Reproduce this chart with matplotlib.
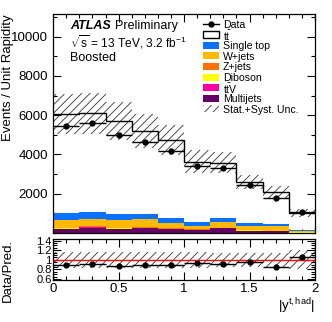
import matplotlib
matplotlib.use("Agg")
import matplotlib.pyplot as plt
from matplotlib.patches import Rectangle
import numpy as np

plt.rcParams['font.family'] = ['Liberation Sans', 'DejaVu Sans']
plt.rcParams['mathtext.fontset'] = 'custom'
plt.rcParams['mathtext.rm'] = 'Liberation Sans'
plt.rcParams['mathtext.it'] = 'Liberation Sans:italic'
plt.rcParams['hatch.linewidth'] = 0.6
plt.rcParams['hatch.color'] = '#333333'

# bin edges in |y^{t,had}|
edges = np.arange(0, 2.01, 0.2)

# data and total prediction (events / unit rapidity)
data = [5445, 5600, 5000, 4630, 4190, 3410, 3290, 2440, 1765, 1090]
total_pred = [6050, 6100, 5700, 5200, 4730, 3630, 3580, 2580, 2070, 1030]
rel_unc = [0.17, 0.17, 0.17, 0.17, 0.16, 0.16, 0.15, 0.14, 0.15, 0.2]

# backgrounds, bottom to top
multijets = [190, 280, 200, 230, 180, 150, 230, 115, 85, 20]
ttv = [25, 25, 20, 25, 15, 12, 15, 8, 8, 5]
diboson = [15, 20, 10, 20, 10, 10, 10, 8, 8, 5]
zjets = [30, 40, 30, 40, 25, 20, 25, 15, 15, 10]
wjets = [400, 360, 400, 380, 300, 165, 300, 225, 225, 60]
single_top = [380, 340, 300, 250, 240, 185, 170, 120, 118, 50]

bkgs = [
    (multijets, '#660066', 'Multijets'),
    (ttv, '#ff00a0', r'$\mathrm{t\bar{t}V}$'),
    (diboson, '#ffff00', 'Diboson'),
    (zjets, '#ff7200', 'Z+jets'),
    (wjets, '#ffb900', 'W+jets'),
    (single_top, '#0a72ff', 'Single top'),
]

def stepy(v):
    v = np.asarray(v, dtype=float)
    return np.append(v, v[-1])

fig = plt.figure(figsize=(3.32, 3.22), dpi=100)
ax = fig.add_axes([0.16, 0.2764, 0.789, 0.680])
rax = fig.add_axes([0.16, 0.1304, 0.789, 0.1283])

centers = (edges[:-1] + edges[1:]) / 2
tot = np.array(total_pred, dtype=float)
dat = np.array(data, dtype=float)
unc = np.array(rel_unc)

# ttbar white on top of the backgrounds
ax.fill_between(edges, 0, stepy(tot), step='post', facecolor='white', edgecolor='none', zorder=1)
ax.stairs(tot, edges, color='black', linewidth=1.0, zorder=4, baseline=None)

bottom = np.zeros(len(centers))
for vals, col, lab in bkgs:
    v = np.array(vals, dtype=float)
    ax.fill_between(edges, stepy(bottom), stepy(bottom + v), step='post',
                    facecolor=col, edgecolor='none', zorder=2)
    bottom = bottom + v

# uncertainty band
ax.fill_between(edges, stepy(tot * (1 - unc)), stepy(tot * (1 + unc)), step='post',
                facecolor='none', edgecolor='#333333', hatch='////', linewidth=0, zorder=3)

ax.errorbar(centers, dat, xerr=0.1, yerr=np.sqrt(dat) * 1.5, fmt='o', color='black',
            markersize=3.5, elinewidth=1.0, capsize=0, zorder=5)

ax.set_xlim(0, 2)
ax.set_ylim(0, 11150)
ax.set_yticks([2000, 4000, 6000, 8000, 10000])
ax.set_yticks(np.arange(0, 11001, 1000), minor=True)
ax.set_xticks(np.arange(0, 2.01, 0.5))
ax.set_xticks(np.arange(0, 2.01, 0.1), minor=True)
ax.set_xticklabels([])
ax.set_ylabel('Events / Unit Rapidity', fontsize=9.5, loc='top')
ax.yaxis.set_label_coords(-0.148, 1.0)

for a in (ax, rax):
    a.tick_params(which='both', direction='in', top=True, right=True, labelsize=9.5)
    a.tick_params(which='major', length=6, width=0.8)
    a.tick_params(which='minor', length=3, width=0.8)
    for s in a.spines.values():
        s.set_linewidth(0.9)
        s.set_zorder(10)

ax.text(0.065, 0.947, 'ATLAS', transform=ax.transAxes, fontsize=9, fontweight='bold',
        style='italic', va='center')
ax.text(0.238, 0.947, 'Preliminary', transform=ax.transAxes, fontsize=9, va='center')
ax.text(0.065, 0.872, r'$\sqrt{\mathrm{s}}$ = 13 TeV, 3.2 fb$^{\mathrm{-1}}$', transform=ax.transAxes,
        fontsize=8.6, va='center')
ax.text(0.065, 0.797, 'Boosted', transform=ax.transAxes, fontsize=9, va='center')

# legend drawn by hand, one row per entry
leg_labels = ['Data', r'$\mathrm{t\bar{t}}$'] + [b[2] for b in reversed(bkgs)] + ['Stat.+Syst. Unc.']
x0, x1, xt = 0.5725, 0.634, 0.649
bh = 0.032
for i, lab in enumerate(leg_labels):
    yc = (233 - (24 + 10.6 * i)) / 219.0
    if i == 0:
        ax.plot([x0, x1], [yc, yc], color='black', linewidth=1.0, transform=ax.transAxes,
                clip_on=False, zorder=6)
        ax.plot([(x0 + x1) / 2], [yc], 'o', color='black', markersize=3.5,
                transform=ax.transAxes, clip_on=False, zorder=6)
    elif i == 1:
        ax.add_patch(Rectangle((x0, yc - bh / 2), x1 - x0, bh, transform=ax.transAxes,
                               facecolor='white', edgecolor='black', linewidth=1.0, zorder=6))
    elif i == len(leg_labels) - 1:
        ax.add_patch(Rectangle((x0, yc - bh / 2), x1 - x0, bh, transform=ax.transAxes,
                               facecolor='none', edgecolor='#333333', hatch='////',
                               linewidth=0, zorder=6))
    else:
        col = list(reversed(bkgs))[i - 2][1]
        ax.add_patch(Rectangle((x0, yc - bh / 2), x1 - x0, bh, transform=ax.transAxes,
                               facecolor=col, edgecolor='none', zorder=6))
    ax.text(xt, yc, lab, transform=ax.transAxes, fontsize=7.6, va='center_baseline', zorder=6)

# ratio panel
ratio = dat / tot
rax.fill_between(edges, stepy(1 - unc), stepy(1 + unc), step='post', facecolor='none',
                 edgecolor='#333333', hatch='////', linewidth=0, zorder=1)
rax.axhline(1, color='red', linewidth=1.0, zorder=2)
rax.errorbar(centers, ratio, xerr=0.1, yerr=np.sqrt(dat) * 1.5 / tot, fmt='o', color='black',
             markersize=3.5, elinewidth=1.0, capsize=0, zorder=3)
rax.set_xlim(0, 2)
rax.set_ylim(0.58, 1.44)
rax.set_yticks([0.6, 0.8, 1.0, 1.2, 1.4])
rax.set_yticklabels(['0.6', '0.8', '1', '1.2', '1.4'])
rax.set_yticks(np.arange(0.6, 1.41, 0.05), minor=True)
rax.set_xticks(np.arange(0, 2.01, 0.5))
rax.set_xticklabels(['0', '0.5', '1', '1.5', '2'])
rax.set_xticks(np.arange(0, 2.01, 0.1), minor=True)
rax.tick_params(axis='y', labelsize=8, pad=1)
rax.tick_params(axis='x', pad=2)
rax.set_ylabel('Data/Pred.', fontsize=9.5, loc='top')
rax.yaxis.set_label_coords(-0.148, 1.0)
fig.text(0.949, 1 - 306 / 322, r'$|\mathrm{y}^{\mathrm{t,had}}|$', fontsize=9.5,
         ha='right', va='center')

fig.savefig('out.png', dpi=100)
